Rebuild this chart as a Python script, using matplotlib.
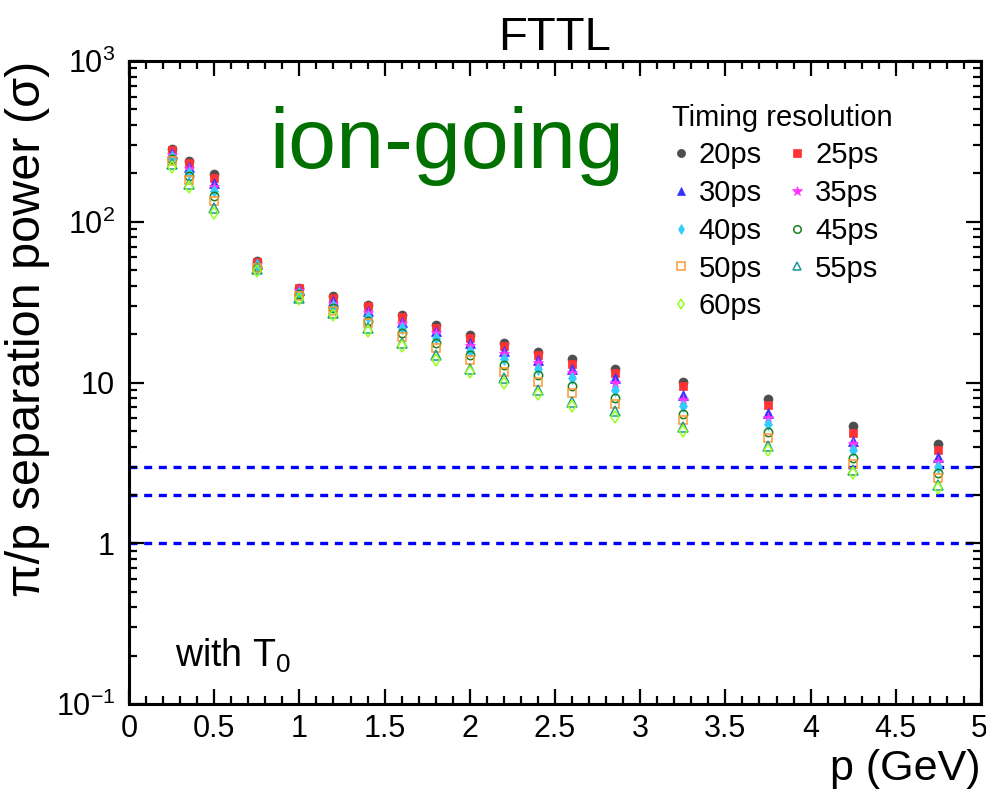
import matplotlib
matplotlib.use('Agg')
import matplotlib.pyplot as plt
from matplotlib.ticker import FixedLocator, FixedFormatter, MultipleLocator, FuncFormatter, NullFormatter
from matplotlib.transforms import ScaledTranslation

plt.rcParams['font.family'] = ['Liberation Sans', 'DejaVu Sans']
plt.rcParams['mathtext.fontset'] = 'custom'
plt.rcParams['mathtext.rm'] = 'Liberation Sans'
plt.rcParams['mathtext.it'] = 'Liberation Sans:italic'
plt.rcParams['mathtext.bf'] = 'Liberation Sans:bold'

# ---------------- data ----------------
momentum = [0.25, 0.35, 0.5, 0.75, 1.0, 1.2, 1.4, 1.6, 1.8, 2.0, 2.2, 2.4, 2.6, 2.85, 3.25, 3.75, 4.25, 4.75]

sep_20ps = [285, 240, 198, 57.0, 39.0, 34.5, 30.5, 26.5, 22.8, 19.8, 17.6, 15.6, 14.0, 12.2, 10.1, 7.95, 5.35, 4.15]
sep_25ps = [278, 232, 188, 56.0, 38.5, 33.5, 29.8, 25.5, 22.0, 18.9, 16.8, 14.8, 13.1, 11.5, 9.45, 7.25, 4.85, 3.80]
sep_30ps = [268, 220, 175, 55.0, 37.5, 32.0, 28.0, 23.9, 21.0, 17.7, 15.8, 13.9, 12.2, 10.6, 8.40, 6.45, 4.35, 3.42]
sep_35ps = [261, 212, 165, 54.0, 37.0, 31.0, 27.0, 23.1, 20.2, 16.9, 15.0, 13.3, 11.4, 9.90, 7.80, 6.00, 4.12, 3.20]
sep_40ps = [253, 202, 155, 53.5, 36.0, 30.0, 25.7, 21.7, 18.8, 15.8, 14.1, 12.2, 10.6, 9.00, 7.15, 5.55, 3.80, 2.98]
sep_45ps = [246, 192, 145, 52.5, 35.5, 29.0, 24.3, 20.2, 17.5, 14.8, 12.9, 11.1, 9.55, 8.05, 6.37, 4.94, 3.38, 2.73]
sep_50ps = [238, 183, 135, 51.5, 34.5, 28.0, 23.4, 19.3, 16.3, 13.8, 11.7, 10.1, 8.56, 7.32, 5.84, 4.50, 3.11, 2.55]
sep_55ps = [228, 172, 122, 50.5, 33.5, 27.0, 21.7, 17.7, 14.8, 12.1, 10.6, 8.98, 7.60, 6.65, 5.26, 4.03, 2.85, 2.30]
sep_60ps = [220, 165, 113, 49.5, 33.0, 26.5, 21.0, 16.9, 13.8, 11.7, 9.89, 8.48, 7.14, 6.13, 5.01, 3.80, 2.72, 2.21]

resolution_labels = ['20ps', '25ps', '30ps', '35ps', '40ps', '45ps', '50ps', '55ps', '60ps']
thresholds = [1, 2, 3]

x_tick_values = [0, 0.5, 1, 1.5, 2, 2.5, 3, 3.5, 4, 4.5, 5]
x_tick_labels = ['0', '0.5', '1', '1.5', '2', '2.5', '3', '3.5', '4', '4.5', '5']
y_tick_values = [0.1, 1, 10, 100, 1000]
y_tick_labels = ['$10^{-1}$', '1', '10', '$10^{2}$', '$10^{3}$']

# ---------------- styles ----------------
series = [sep_20ps, sep_25ps, sep_30ps, sep_35ps, sep_40ps, sep_45ps, sep_50ps, sep_55ps, sep_60ps]
markers = ['o', 's', '^', '*', 'd', 'o', 's', '^', 'd']
colors = ['#4d4d4d', '#ff3333', '#3333ff', '#ff33ff', '#33ccff', '#1a801a', '#ff9933', '#1a9999', '#99ff1a']
filled = [True, True, True, True, True, False, False, False, False]
msizes = [6.5, 6.0, 7.0, 8.0, 6.0, 6.0, 6.0, 7.0, 6.0]

fig = plt.figure(figsize=(9.87, 7.93), dpi=100)
ax = fig.add_axes([0.1307, 0.1122, 0.8632, 0.8108])

ax.set_xlim(0, 5)
ax.set_yscale('log')
ax.set_ylim(0.1, 1000)

for v in thresholds:
    ax.axhline(v, color='#0000ff', lw=2.4, ls=(0, (2.4, 2.0)), zorder=1)

handles = []
for lab, vals, m, c, f, s in zip(resolution_labels, series, markers, colors, filled, msizes):
    h, = ax.plot(momentum, vals, linestyle='none', marker=m, ms=s, color=c,
                 mfc=c if f else 'none', mec=c, mew=1.1 if not f else 0.5, label=lab, zorder=3)
    handles.append(h)

# legend: row-wise order like the reference
order = [0, 2, 4, 6, 8, 1, 3, 5, 7]
leg = ax.legend([handles[i] for i in order], [resolution_labels[i] for i in order],
                ncol=2, frameon=False, fontsize=21, title='Timing resolution',
                title_fontsize=21, alignment='left', loc='upper left',
                bbox_to_anchor=((655 - 129) / 852, (704 - 86) / 643),
                handlelength=0.55, handletextpad=0.35, columnspacing=0.93,
                labelspacing=0.335, borderpad=0.1, markerscale=0.9)

# axes styling
for sp in ax.spines.values():
    sp.set_linewidth(2.2)
ax.xaxis.set_major_locator(FixedLocator(x_tick_values))
ax.xaxis.set_major_formatter(FixedFormatter(x_tick_labels))
ax.xaxis.set_minor_locator(MultipleLocator(0.1))
ax.yaxis.set_major_locator(FixedLocator(y_tick_values))
ax.yaxis.set_major_formatter(FixedFormatter(y_tick_labels))
ax.yaxis.set_minor_formatter(NullFormatter())
ax.tick_params(which='both', direction='in', top=True, right=True, width=1.6, labelsize=22)
ax.tick_params(which='major', length=11)
ax.tick_params(axis='x', which='major', pad=7)
ax.tick_params(axis='y', which='major', pad=10)
ax.tick_params(which='minor', length=5.5)

ax.set_xlabel('p (GeV)', fontsize=31, loc='right', labelpad=4)
ax.set_ylabel('π/p separation power (σ)', fontsize=35, loc='top', labelpad=4)

fig.text(555 / 987, 1 - 50 / 793, 'FTTL', fontsize=34, ha='center', va='baseline')
ax.text((447 - 129) / 852, (704 - 168) / 643, 'ion-going', fontsize=62, color='#007000',
        ha='center', va='baseline', transform=ax.transAxes)
ax.text((175 - 129) / 852, (704 - 667) / 643, 'with T$_0$', fontsize=27,
        ha='left', va='baseline', transform=ax.transAxes)

# keep the last x tick label ("5") inside the canvas
fig.canvas.draw()
for lbl in ax.get_xticklabels():
    if lbl.get_text() == '5':
        lbl.set_horizontalalignment('right')
        lbl.set_transform(lbl.get_transform() + ScaledTranslation(4.5 / 72, 0, fig.dpi_scale_trans))

fig.savefig('out.png', dpi=100)
